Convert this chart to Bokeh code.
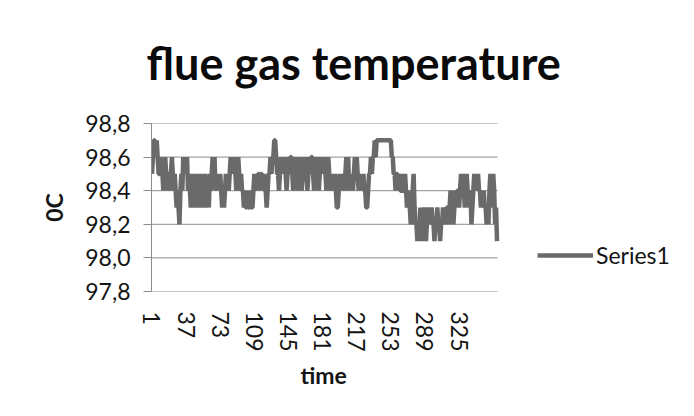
from bokeh.plotting import figure
from bokeh.models import Range1d, FixedTicker, CustomJSTickFormatter, Legend, LegendItem, Title
from bokeh.embed import file_html
from bokeh.resources import INLINE

title_text = "flue gas temperature"
x_label = "time"
y_label = "0C"
series_name = "Series1"
x_tick_values = [1, 37, 73, 109, 145, 181, 217, 253, 289, 325]
y_tick_values = [97.8, 98.0, 98.2, 98.4, 98.6, 98.8]

temps = [
    98.5, 98.6, 98.7, 98.7, 98.6, 98.7, 98.6, 98.5, 98.5, 98.6,
    98.5, 98.5, 98.4, 98.5, 98.6, 98.5, 98.4, 98.5, 98.5, 98.4,
    98.5, 98.6, 98.5, 98.4, 98.5, 98.4, 98.3, 98.4, 98.3, 98.2,
    98.4, 98.5, 98.4, 98.6, 98.5, 98.6, 98.5, 98.6, 98.4, 98.5,
    98.4, 98.3, 98.5, 98.4, 98.3, 98.5, 98.4, 98.3, 98.5, 98.4,
    98.5, 98.3, 98.4, 98.5, 98.3, 98.4, 98.5, 98.4, 98.3, 98.4,
    98.3, 98.5, 98.4, 98.5, 98.6, 98.5, 98.6, 98.4, 98.5, 98.4,
    98.5, 98.4, 98.5, 98.4, 98.3, 98.4, 98.3, 98.4, 98.5, 98.4,
    98.5, 98.4, 98.5, 98.6, 98.5, 98.6, 98.5, 98.6, 98.5, 98.4,
    98.5, 98.6, 98.5, 98.4, 98.5, 98.4, 98.4, 98.3, 98.4, 98.3,
    98.3, 98.4, 98.3, 98.3, 98.4, 98.3, 98.3, 98.4, 98.5, 98.4,
    98.5, 98.4, 98.5, 98.5, 98.4, 98.5, 98.5, 98.4, 98.5, 98.4,
    98.4, 98.3, 98.4, 98.5, 98.5, 98.6, 98.5, 98.6, 98.6, 98.7,
    98.7, 98.6, 98.5, 98.5, 98.4, 98.5, 98.6, 98.5, 98.6, 98.5,
    98.6, 98.5, 98.4, 98.5, 98.6, 98.5, 98.6, 98.6, 98.5, 98.4,
    98.5, 98.6, 98.5, 98.6, 98.4, 98.5, 98.6, 98.5, 98.4, 98.5,
    98.6, 98.5, 98.6, 98.5, 98.4, 98.5, 98.6, 98.5, 98.6, 98.6,
    98.5, 98.4, 98.5, 98.6, 98.5, 98.6, 98.4, 98.5, 98.6, 98.5,
    98.6, 98.5, 98.6, 98.5, 98.4, 98.5, 98.6, 98.5, 98.4, 98.5,
    98.4, 98.5, 98.4, 98.5, 98.4, 98.3, 98.3, 98.4, 98.5, 98.4,
    98.5, 98.4, 98.5, 98.4, 98.5, 98.6, 98.5, 98.6, 98.4, 98.5,
    98.4, 98.5, 98.4, 98.5, 98.6, 98.5, 98.6, 98.5, 98.4, 98.5,
    98.4, 98.5, 98.4, 98.5, 98.4, 98.4, 98.3, 98.3, 98.4, 98.5,
    98.5, 98.6, 98.5, 98.6, 98.6, 98.7, 98.6, 98.7, 98.7, 98.7,
    98.7, 98.7, 98.7, 98.7, 98.7, 98.7, 98.7, 98.7, 98.7, 98.7,
    98.7, 98.7, 98.7, 98.6, 98.6, 98.5, 98.5, 98.4, 98.5, 98.5,
    98.4, 98.5, 98.4, 98.4, 98.5, 98.4, 98.4, 98.5, 98.4, 98.3,
    98.4, 98.3, 98.3, 98.2, 98.3, 98.4, 98.5, 98.3, 98.2, 98.2,
    98.1, 98.2, 98.1, 98.3, 98.2, 98.1, 98.2, 98.3, 98.2, 98.1,
    98.2, 98.3, 98.2, 98.3, 98.2, 98.3, 98.2, 98.2, 98.1, 98.2,
    98.2, 98.3, 98.2, 98.2, 98.1, 98.2, 98.2, 98.3, 98.2, 98.3,
    98.2, 98.3, 98.3, 98.2, 98.3, 98.4, 98.3, 98.4, 98.2, 98.3,
    98.4, 98.3, 98.4, 98.4, 98.3, 98.4, 98.5, 98.4, 98.5, 98.4,
    98.3, 98.4, 98.5, 98.4, 98.4, 98.3, 98.4, 98.2, 98.3, 98.4,
    98.5, 98.4, 98.5, 98.4, 98.5, 98.4, 98.4, 98.3, 98.4, 98.3,
    98.4, 98.3, 98.3, 98.2, 98.3, 98.2, 98.4, 98.5, 98.4, 98.3,
    98.5, 98.4, 98.2, 98.3, 98.1,
]
time = list(range(1, len(temps) + 1))

FONT = "Lato"
TEXT = "#141414"
GRID = "#8c8c8c"

# layout (pixels)
W, H = 678, 400
BL, BR, BT, BB = 151, 2, 121, 109
PLOT_W = 346                      # width of the plotting area holding the series
FRAME_W = W - BL - BR             # frame also holds the legend on its right
n = len(temps)
x_start = 0.5
x_end = x_start + n * FRAME_W / PLOT_W

p = figure(width=W, height=H, output_backend="svg", toolbar_location=None,
           x_range=Range1d(x_start, x_end), y_range=Range1d(97.8, 98.8),
           min_border_left=BL, min_border_right=BR, min_border_top=BT,
           min_border_bottom=BB)
p.outline_line_color = None
p.background_fill_color = "white"
p.border_fill_color = "white"

p.xgrid.visible = False
p.ygrid.visible = False
# horizontal gridlines only across the plotting area
p.segment(x0=[x_start] * len(y_tick_values), x1=[x_start + n] * len(y_tick_values),
          y0=y_tick_values, y1=y_tick_values, line_color=GRID, line_width=1)

p.yaxis.ticker = FixedTicker(ticks=y_tick_values)
p.yaxis.formatter = CustomJSTickFormatter(code="return tick.toFixed(1).replace('.', ',');")
p.yaxis.major_tick_out = 8
p.yaxis.major_tick_in = 0
p.yaxis.minor_tick_line_color = None
p.yaxis.axis_line_color = GRID
p.yaxis.major_tick_line_color = GRID
p.yaxis.major_label_text_font = FONT
p.yaxis.major_label_text_font_size = "23px"
p.yaxis.major_label_text_color = TEXT
p.yaxis.major_label_standoff = 13
p.yaxis.axis_label = y_label
p.yaxis.axis_label_text_font = FONT
p.yaxis.axis_label_text_font_size = "23px"
p.yaxis.axis_label_text_font_style = "bold"
p.yaxis.axis_label_text_color = TEXT
p.yaxis.axis_label_standoff = 14

p.xaxis.ticker = FixedTicker(ticks=x_tick_values)
p.xaxis.major_label_orientation = "vertical"
p.xaxis.major_tick_out = 0
p.xaxis.major_tick_in = 0
p.xaxis.minor_tick_line_color = None
p.xaxis.axis_line_color = None
p.xaxis.major_label_text_font = FONT
p.xaxis.major_label_text_font_size = "23px"
p.xaxis.major_label_text_color = TEXT
p.xaxis.major_label_standoff = 20

r = p.line(time, temps, line_color="#6a6a6a", line_width=4.5)

legend = Legend(items=[LegendItem(label=series_name, renderers=[r])],
                location=(386, 22), glyph_width=56, glyph_height=20,
                label_standoff=3, padding=0, margin=0, spacing=0,
                border_line_color=None, background_fill_alpha=0,
                label_text_font=FONT, label_text_font_size="23px",
                label_text_color=TEXT)
p.add_layout(legend)

p.title = Title(text=title_text, align="left", offset=-5, standoff=67,
                text_font=FONT, text_font_style="bold", text_font_size="45px",
                text_color="#0a0a0a")

p.add_layout(Title(text=x_label, align="left", offset=PLOT_W / 2 - 24, standoff=8,
                   text_font=FONT, text_font_style="bold", text_font_size="23px",
                   text_color=TEXT), "below")

open("out.html", "w").write(file_html(p, INLINE))
